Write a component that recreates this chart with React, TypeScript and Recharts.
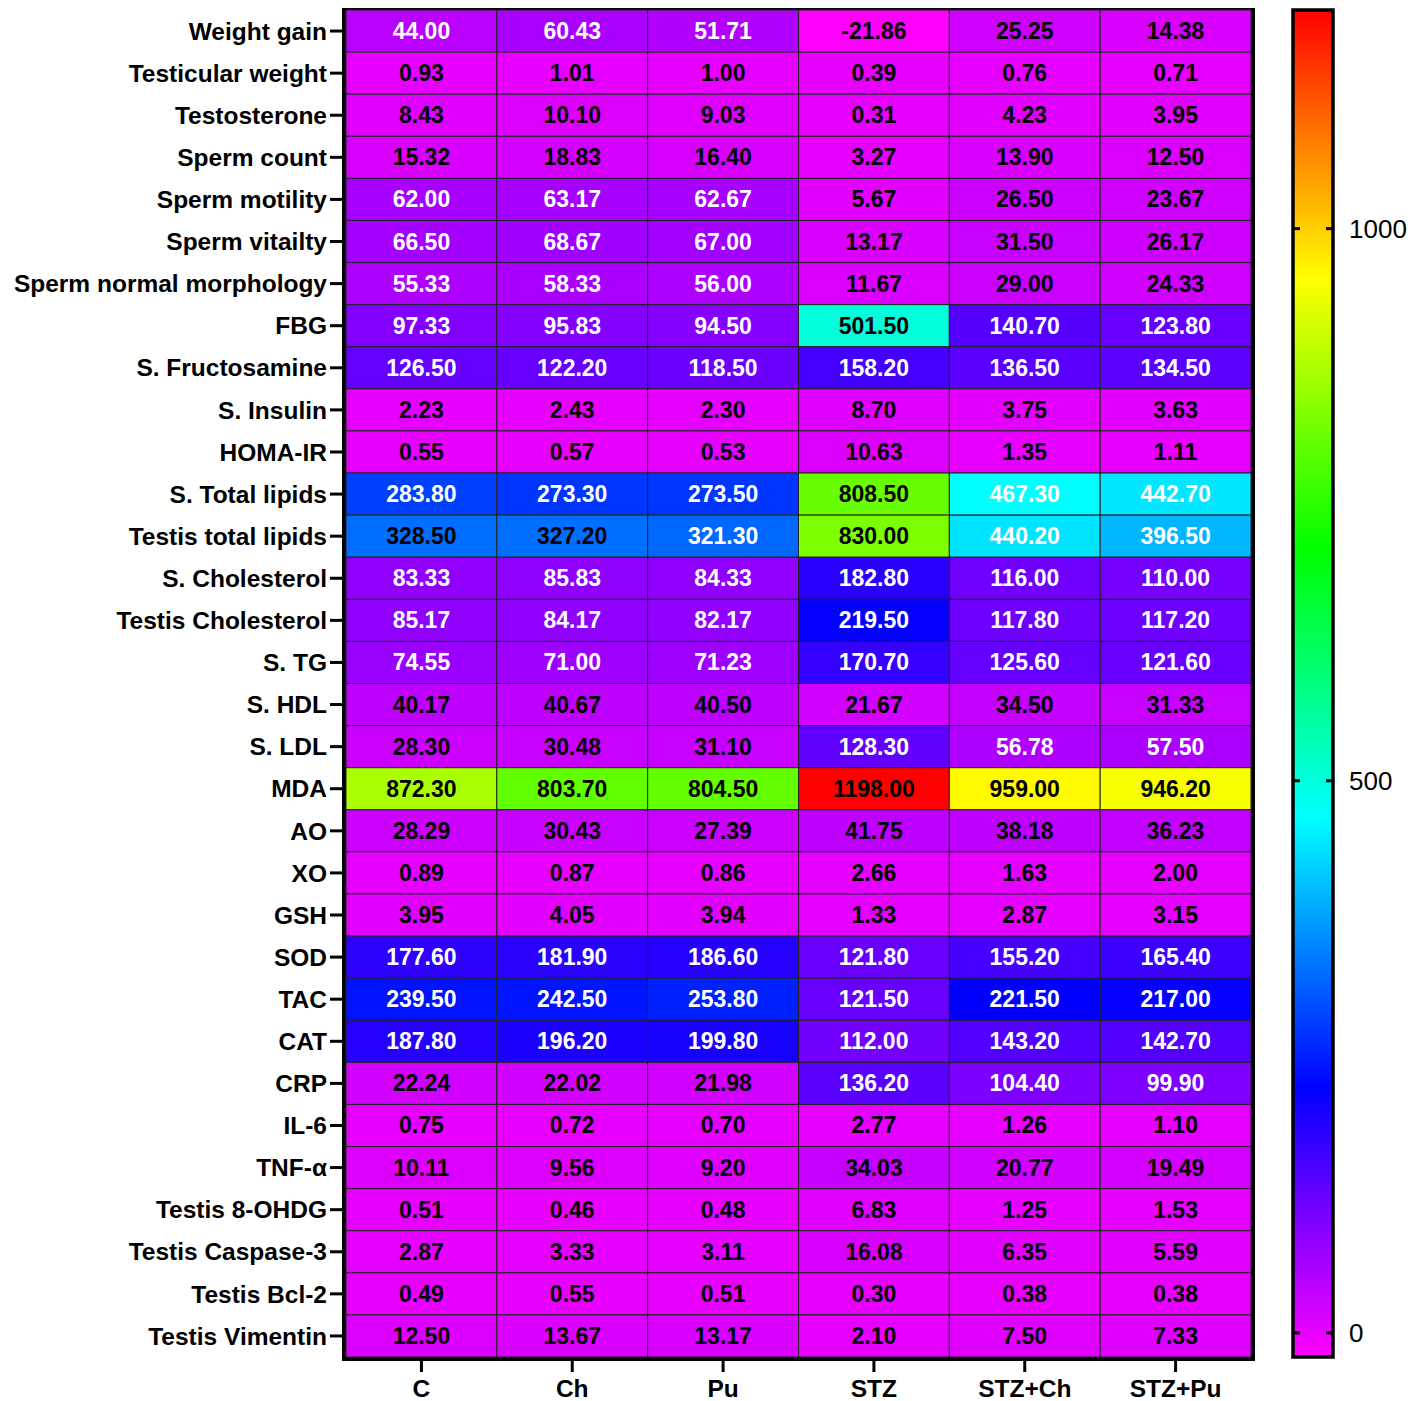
import React from 'react';
import {
  ScatterChart,
  Scatter,
  XAxis,
  YAxis,
  ReferenceArea,
  BarChart,
  Bar,
} from 'recharts';

const groups = ['C', 'Ch', 'Pu', 'STZ', 'STZ+Ch', 'STZ+Pu'];

const parameters = [
  'Weight gain', 'Testicular weight', 'Testosterone', 'Sperm count', 'Sperm motility',
  'Sperm vitailty', 'Sperm normal morphology', 'FBG', 'S. Fructosamine', 'S. Insulin',
  'HOMA-IR', 'S. Total lipids', 'Testis total lipids', 'S. Cholesterol', 'Testis Cholesterol',
  'S. TG', 'S. HDL', 'S. LDL', 'MDA', 'AO', 'XO', 'GSH', 'SOD', 'TAC', 'CAT', 'CRP',
  'IL-6', 'TNF-α', 'Testis 8-OHDG', 'Testis Caspase-3', 'Testis Bcl-2', 'Testis Vimentin',
];

const cValues = [
  44.0, 0.93, 8.43, 15.32, 62.0, 66.5, 55.33, 97.33, 126.5, 2.23, 0.55, 283.8, 328.5, 83.33,
  85.17, 74.55, 40.17, 28.3, 872.3, 28.29, 0.89, 3.95, 177.6, 239.5, 187.8, 22.24, 0.75, 10.11,
  0.51, 2.87, 0.49, 12.5,
];
const chValues = [
  60.43, 1.01, 10.1, 18.83, 63.17, 68.67, 58.33, 95.83, 122.2, 2.43, 0.57, 273.3, 327.2, 85.83,
  84.17, 71.0, 40.67, 30.48, 803.7, 30.43, 0.87, 4.05, 181.9, 242.5, 196.2, 22.02, 0.72, 9.56,
  0.46, 3.33, 0.55, 13.67,
];
const puValues = [
  51.71, 1.0, 9.03, 16.4, 62.67, 67.0, 56.0, 94.5, 118.5, 2.3, 0.53, 273.5, 321.3, 84.33,
  82.17, 71.23, 40.5, 31.1, 804.5, 27.39, 0.86, 3.94, 186.6, 253.8, 199.8, 21.98, 0.7, 9.2,
  0.48, 3.11, 0.51, 13.17,
];
const stzValues = [
  -21.86, 0.39, 0.31, 3.27, 5.67, 13.17, 11.67, 501.5, 158.2, 8.7, 10.63, 808.5, 830.0, 182.8,
  219.5, 170.7, 21.67, 128.3, 1198.0, 41.75, 2.66, 1.33, 121.8, 121.5, 112.0, 136.2, 2.77, 34.03,
  6.83, 16.08, 0.3, 2.1,
];
const stzChValues = [
  25.25, 0.76, 4.23, 13.9, 26.5, 31.5, 29.0, 140.7, 136.5, 3.75, 1.35, 467.3, 440.2, 116.0,
  117.8, 125.6, 34.5, 56.78, 959.0, 38.18, 1.63, 2.87, 155.2, 221.5, 143.2, 104.4, 1.26, 20.77,
  1.25, 6.35, 0.38, 7.5,
];
const stzPuValues = [
  14.38, 0.71, 3.95, 12.5, 23.67, 26.17, 24.33, 123.8, 134.5, 3.63, 1.11, 442.7, 396.5, 110.0,
  117.2, 121.6, 31.33, 57.5, 946.2, 36.23, 2.0, 3.15, 165.4, 217.0, 142.7, 99.9, 1.1, 19.49,
  1.53, 5.59, 0.38, 7.33,
];

const colorTicks = [0, 500, 1000];

const columns = [cValues, chValues, puValues, stzValues, stzChValues, stzPuValues];

const cells = parameters.flatMap((p, ri) =>
  groups.map((g, gi) => ({ x: gi + 0.5, y: ri + 0.5, group: g, param: p, v: columns[gi][ri] }))
);

const allValues = columns.flat();
const minV = Math.min(...allValues);
const maxV = Math.max(...allValues);

const FONT = '"Liberation Sans", Arial, Helvetica, sans-serif';

// layout
const CHART_H = 1393;
const MARGIN_TOP = 2;
const X_AXIS_H = 44;
const Y_AXIS_W = 338;
const PLOT_W = 905;
const PLOT_H = CHART_H - MARGIN_TOP - X_AXIS_H;
const MAIN_W = Y_AXIS_W + PLOT_W + 37;
const CELL_W = PLOT_W / groups.length;
const CELL_H = PLOT_H / parameters.length;

const heatColor = (v: number) => {
  const t = (v - minV) / (maxV - minV);
  return `hsl(${300 * (1 - t)}, 100%, 50%)`;
};

// label colour as in the source figure
const textColor = (v: number) =>
  v < 43 || v > 500 || (v > 325 && v < 330) ? '#000' : '#fff';

const HeatCell = (props: any) => {
  const { cx, cy, payload } = props;
  return (
    <g>
      <rect
        x={cx - CELL_W / 2}
        y={cy - CELL_H / 2}
        width={CELL_W}
        height={CELL_H}
        fill={heatColor(payload.v)}
        stroke="#222"
        strokeWidth={1}
      />
      <text
        x={cx}
        y={cy}
        textAnchor="middle"
        dominantBaseline="central"
        fontSize={23}
        fontWeight={700}
        fontFamily={FONT}
        fill={textColor(payload.v)}
      >
        {payload.v.toFixed(2)}
      </text>
    </g>
  );
};

const ColorTick = (props: any) => {
  const { y, payload } = props;
  return (
    <g>
      <line x1={15} x2={22} y1={y} y2={y} stroke="#000" strokeWidth={3} />
      <line x1={48} x2={55} y1={y} y2={y} stroke="#000" strokeWidth={3} />
      <text x={71} y={y} dominantBaseline="central" fontSize={26} fontFamily={FONT} fill="#000">
        {payload.value}
      </text>
    </g>
  );
};

const tickStyle = { fill: '#000', fontSize: 24.5, fontWeight: 700, fontFamily: FONT };

export default function App() {
  return (
    <div style={{ position: 'relative', width: 1411, height: CHART_H, fontFamily: FONT }}>
      <ScatterChart
        width={MAIN_W}
        height={CHART_H}
        margin={{ top: MARGIN_TOP, right: 37, bottom: 0, left: 0 }}
      >
        <XAxis
          type="number"
          dataKey="x"
          domain={[0, groups.length]}
          ticks={groups.map((_, i) => i + 0.5)}
          tickFormatter={(t: number) => groups[Math.floor(t)]}
          interval={0}
          height={X_AXIS_H}
          axisLine={false}
          tickLine={{ stroke: '#000', strokeWidth: 3 }}
          tickSize={15}
          tickMargin={8}
          tick={tickStyle}
        />
        <YAxis
          type="number"
          dataKey="y"
          domain={[0, parameters.length]}
          reversed
          ticks={parameters.map((_, i) => i + 0.5)}
          tickFormatter={(t: number) => parameters[Math.floor(t)]}
          interval={0}
          width={Y_AXIS_W}
          axisLine={false}
          tickLine={{ stroke: '#000', strokeWidth: 3 }}
          tickSize={16}
          tickMargin={3}
          tick={tickStyle}
        />
        <Scatter data={cells} shape={HeatCell} isAnimationActive={false} />
        <ReferenceArea
          x1={0}
          x2={groups.length}
          y1={0}
          y2={parameters.length}
          fill="none"
          fillOpacity={0}
          stroke="#000"
          strokeWidth={8}
          strokeOpacity={1}
        />
      </ScatterChart>
      <div style={{ position: 'absolute', left: 1270, top: 0 }}>
        <BarChart
          width={141}
          height={CHART_H}
          data={[{ name: 'scale', range: [minV, maxV] }]}
          margin={{ top: MARGIN_TOP, right: 0, bottom: X_AXIS_H, left: 15 }}
          barCategoryGap={0}
        >
          <defs>
            <linearGradient id="cbGrad" x1="0" y1="1" x2="0" y2="0">
              <stop offset="0%" stopColor="#ff00ff" />
              <stop offset="20%" stopColor="#0000ff" />
              <stop offset="40%" stopColor="#00ffff" />
              <stop offset="60%" stopColor="#00ff00" />
              <stop offset="80%" stopColor="#ffff00" />
              <stop offset="100%" stopColor="#ff0000" />
            </linearGradient>
          </defs>
          <XAxis dataKey="name" hide />
          <YAxis
            orientation="right"
            type="number"
            domain={[minV, maxV]}
            ticks={colorTicks}
            width={86}
            axisLine={false}
            tickLine={false}
            tick={ColorTick}
            interval={0}
          />
          <Bar
            dataKey="range"
            fill="url(#cbGrad)"
            stroke="#000"
            strokeWidth={3.5}
            isAnimationActive={false}
          />
        </BarChart>
      </div>
    </div>
  );
}
